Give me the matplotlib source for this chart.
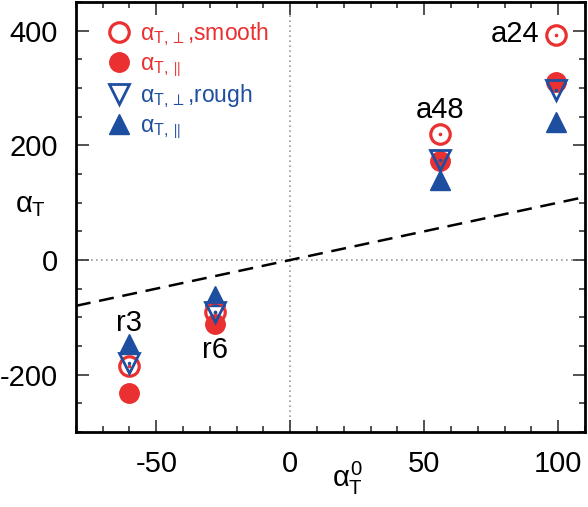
import matplotlib
matplotlib.use("Agg")
import matplotlib.pyplot as plt
from matplotlib.ticker import MultipleLocator

plt.rcParams['font.family'] = ['Liberation Sans', 'DejaVu Sans']
plt.rcParams['mathtext.fontset'] = 'custom'
plt.rcParams['mathtext.rm'] = 'Liberation Sans'
plt.rcParams['mathtext.it'] = 'Liberation Sans'
plt.rcParams['mathtext.sf'] = 'Liberation Sans'
plt.rcParams['axes.unicode_minus'] = False

# Data
labels = ["r3", "r6", "a48", "a24"]
alpha0 = [-60, -28, 56, 99]
perp_smooth = [-185, -90, 219, 393]
par_smooth = [-232, -111, 172, 310]
perp_rough = [-180, -90, 174, 297]
par_rough = [-146, -63, 139, 240]
label_y = [-110, -157, 261, 395]
label_dx = [0, 0, 0, -12]
label_ha = ["center", "center", "center", "right"]

red = "#ea3030"
blue = "#1e4ea0"

fig = plt.figure(figsize=(5.88, 5.07), dpi=100)
ax = fig.add_axes([0.129, 0.148, 0.866, 0.848])

ax.set_xlim(-80, 110)
ax.set_ylim(-300, 450)

# reference lines
ax.axvline(0, color="#999999", lw=1.2, ls=(0, (1, 2)), zorder=0)
ax.axhline(0, color="#999999", lw=1.2, ls=(0, (1, 2)), zorder=0)
xl = [-80, 110]
ax.plot(xl, xl, color="black", lw=1.8, ls=(0, (6, 3.5)), zorder=1)

ms = 14
h1, = ax.plot(alpha0, perp_smooth, ls="none", marker="o", ms=ms, mfc="none", mec=red, mew=2.3, zorder=3)
ax.plot(alpha0, perp_smooth, ls="none", marker="o", ms=1.6, mfc=red, mec=red, zorder=3)
h2, = ax.plot(alpha0, par_smooth, ls="none", marker="o", ms=ms, mfc=red, mec=red, zorder=2)
h3, = ax.plot(alpha0, perp_rough, ls="none", marker="v", ms=ms, mfc="none", mec=blue, mew=2.0, zorder=4)
ax.plot(alpha0, perp_rough, ls="none", marker="o", ms=1.5, mfc=blue, mec=blue, zorder=4)
h4, = ax.plot(alpha0, par_rough, ls="none", marker="^", ms=ms, mfc=blue, mec=blue, zorder=2)

for x, y, t, dx, ha in zip(alpha0, label_y, labels, label_dx, label_ha):
    ax.annotate(t, (x, y), xytext=(dx, 0), textcoords="offset points",
                ha=ha, va="center", fontsize=21)

leg = ax.legend([h1, h2, h3, h4],
                [r"$\alpha_{\mathrm{T},\perp}$,smooth", r"$\alpha_{\mathrm{T},\parallel}$",
                 r"$\alpha_{\mathrm{T},\perp}$,rough", r"$\alpha_{\mathrm{T},\parallel}$"],
                loc="upper left", bbox_to_anchor=(0.035, 0.99), frameon=False,
                fontsize=16.5, handlelength=1.0, handletextpad=0.4, labelspacing=0.17,
                borderaxespad=0.2)
for txt, c in zip(leg.get_texts(), [red, red, blue, blue]):
    txt.set_color(c)

ax.xaxis.set_major_locator(MultipleLocator(50))
ax.xaxis.set_minor_locator(MultipleLocator(10))
ax.yaxis.set_major_locator(MultipleLocator(200))
ax.yaxis.set_minor_locator(MultipleLocator(50))
ax.tick_params(which="both", direction="in", top=True, right=True, width=1.2, color="#333333")
ax.tick_params(which="major", length=9, labelsize=21, pad=13)
ax.tick_params(which="minor", length=4)
for s in ax.spines.values():
    s.set_linewidth(2.0)

fig.text(30 / 588, 1 - 205 / 507, r"$\alpha_\mathrm{T}$", fontsize=21, ha="center", va="center")
fig.text(347 / 588, 1 - 478 / 507, r"$\alpha_\mathrm{T}^0$", fontsize=21, ha="center", va="center")

fig.savefig("out.png", dpi=100)
